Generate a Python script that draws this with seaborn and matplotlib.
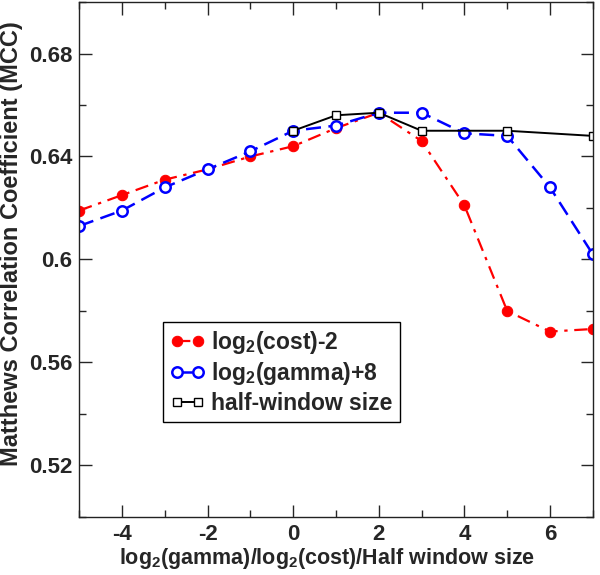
import matplotlib
matplotlib.use("Agg")
import matplotlib.pyplot as plt
import seaborn as sns
from matplotlib.ticker import MultipleLocator

# data
x_cost = [-5, -4, -3, -2, -1, 0, 1, 2, 3, 4, 5, 6, 7]
mcc_cost = [0.619, 0.625, 0.631, 0.635, 0.640, 0.644, 0.651, 0.657, 0.646, 0.621, 0.580, 0.572, 0.573]

x_gamma = [-5, -4, -3, -2, -1, 0, 1, 2, 3, 4, 5, 6, 7]
mcc_gamma = [0.613, 0.619, 0.628, 0.635, 0.642, 0.650, 0.652, 0.657, 0.657, 0.649, 0.648, 0.628, 0.602]

x_window = [0, 1, 2, 3, 5, 7]
mcc_window = [0.650, 0.656, 0.657, 0.650, 0.650, 0.648]

labels = [r'log$_2$(cost)-2', r'log$_2$(gamma)+8', 'half-window size']

sns.set_style("ticks")
plt.rcParams['font.family'] = ['Liberation Sans', 'DejaVu Sans']
plt.rcParams['font.weight'] = 'bold'
plt.rcParams['axes.unicode_minus'] = False
plt.rcParams['mathtext.fontset'] = 'custom'
plt.rcParams['mathtext.rm'] = 'Liberation Sans:bold'
plt.rcParams['mathtext.it'] = 'Liberation Sans:bold'
plt.rcParams['mathtext.bf'] = 'Liberation Sans:bold'

fig, ax = plt.subplots(figsize=(6, 5.75), dpi=100)
fig.subplots_adjust(left=0.132, right=0.988, top=0.9965, bottom=0.101)

sns.lineplot(x=x_cost, y=mcc_cost, ax=ax, color='red', linestyle=(0, (6, 3, 1.5, 3)),
             linewidth=1.6, marker='o', markersize=7.5, markerfacecolor='red',
             markeredgecolor='red', label=labels[0])
sns.lineplot(x=x_gamma, y=mcc_gamma, ax=ax, color='blue', linestyle=(0, (6, 3)),
             linewidth=1.8, marker='o', markersize=7.5, markerfacecolor='white',
             markeredgecolor='blue', markeredgewidth=1.8, label=labels[1])
sns.lineplot(x=x_window, y=mcc_window, ax=ax, color='black', linestyle='-',
             linewidth=1.4, marker='s', markersize=6, markerfacecolor='white',
             markeredgecolor='black', markeredgewidth=1.0, label=labels[2])

ax.set_xlim(-5, 7)
ax.set_ylim(0.50, 0.70)
ax.xaxis.set_minor_locator(MultipleLocator(1))
ax.yaxis.set_minor_locator(MultipleLocator(0.02))
ax.set_yticks([0.52, 0.56, 0.60, 0.64, 0.68])
ax.set_yticklabels(['0.52', '0.56', '0.6', '0.64', '0.68'])
ax.set_xticks([-4, -2, 0, 2, 4, 6])

ax.tick_params(which='both', direction='in', top=True, right=True, width=1, labelsize=16)
ax.tick_params(which='major', length=9, pad=5)
ax.tick_params(which='minor', length=5)
for s in ax.spines.values():
    s.set_linewidth(1.0)
    s.set_color('#222222')

ax.set_xlabel(r'log$_2$(gamma)/log$_2$(cost)/Half window size', fontsize=15.5, fontweight='bold', labelpad=1)
ax.set_ylabel('Matthews Correlation Coefficient (MCC)', fontsize=17, fontweight='bold', labelpad=4)
ax.yaxis.label.set_y(0.531)
ax.xaxis.label.set_x(0.483)

leg = ax.legend(loc='upper left', bbox_to_anchor=(0.163, 0.379), borderaxespad=0,
                fancybox=False, edgecolor='black', framealpha=1, fontsize=16.5,
                numpoints=2, handlelength=1.55, handletextpad=0.26, labelspacing=0.2,
                borderpad=0.3)
leg.get_frame().set_linewidth(1.0)

fig.savefig('out.png', dpi=100)
